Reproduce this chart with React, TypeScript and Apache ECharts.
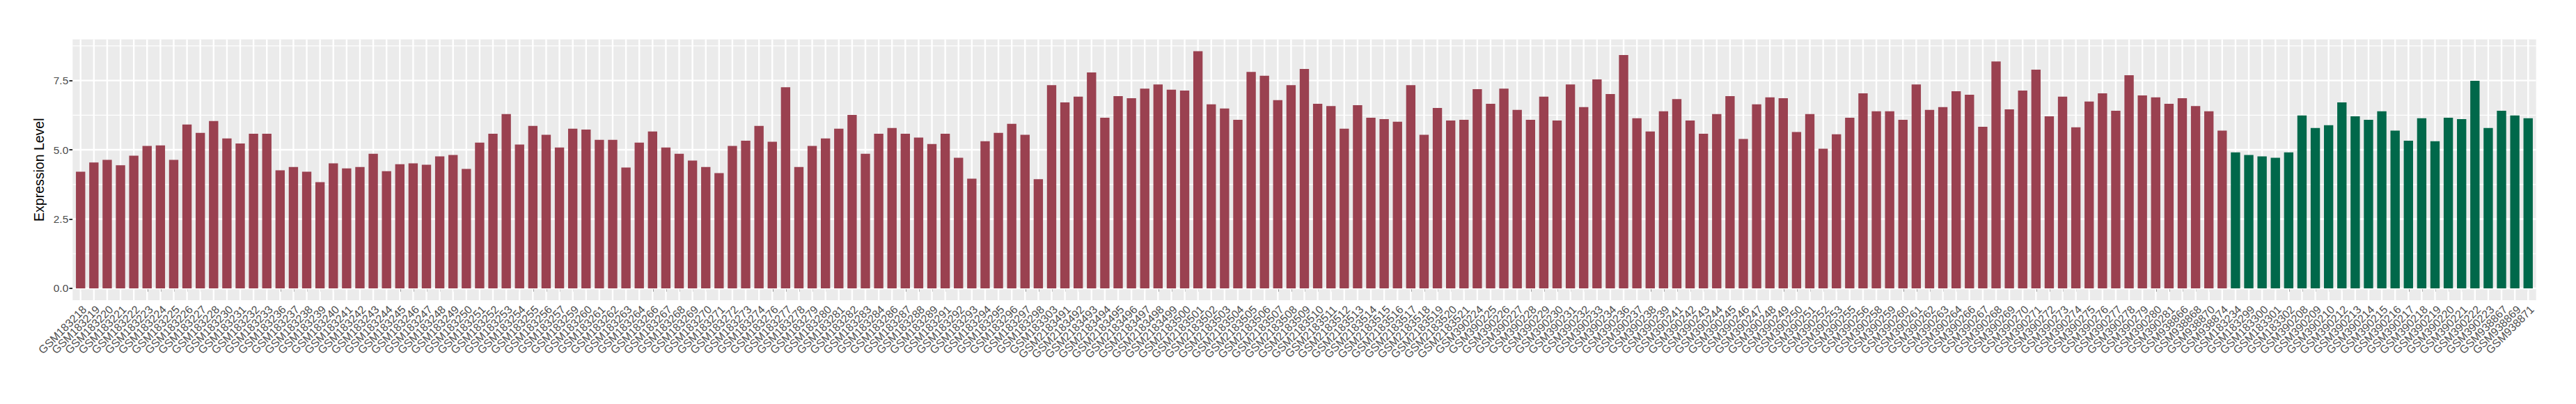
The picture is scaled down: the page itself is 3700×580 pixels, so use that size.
import React, { useEffect, useRef } from "react";
import * as echarts from "echarts";

const tumorNames: string[] = [
  "GSM183218", "GSM183219", "GSM183220", "GSM183221", "GSM183222", "GSM183223", "GSM183224", "GSM183225", "GSM183226", "GSM183227", "GSM183228",
  "GSM183230", "GSM183231", "GSM183232", "GSM183233", "GSM183236", "GSM183237", "GSM183238", "GSM183239", "GSM183240", "GSM183241", "GSM183242", "GSM183243", "GSM183244", "GSM183245", "GSM183246", "GSM183247",
  "GSM183248", "GSM183249", "GSM183250", "GSM183251", "GSM183252", "GSM183253", "GSM183254", "GSM183255", "GSM183256", "GSM183257", "GSM183259", "GSM183260", "GSM183261", "GSM183262", "GSM183263", "GSM183264",
  "GSM183266", "GSM183267", "GSM183268", "GSM183269", "GSM183270", "GSM183271", "GSM183272", "GSM183273", "GSM183274", "GSM183276", "GSM183277", "GSM183278", "GSM183279", "GSM183280", "GSM183281", "GSM183282",
  "GSM183283", "GSM183284", "GSM183286", "GSM183287", "GSM183288", "GSM183289", "GSM183291", "GSM183292", "GSM183293", "GSM183294", "GSM183295", "GSM183296", "GSM183297", "GSM183298", "GSM183303",
  "GSM2183491", "GSM2183492", "GSM2183493", "GSM2183494", "GSM2183495", "GSM2183496", "GSM2183497", "GSM2183498", "GSM2183499", "GSM2183500", "GSM2183501", "GSM2183502", "GSM2183503", "GSM2183504", "GSM2183505", "GSM2183506",
  "GSM2183507", "GSM2183508", "GSM2183509", "GSM2183510", "GSM2183511", "GSM2183512", "GSM2183513", "GSM2183514", "GSM2183515", "GSM2183516", "GSM2183517", "GSM2183518", "GSM2183519", "GSM2183520", "GSM2183521",
  "GSM390224", "GSM390225", "GSM390226", "GSM390227", "GSM390228", "GSM390229", "GSM390230", "GSM390231", "GSM390232", "GSM390233", "GSM390234", "GSM390236", "GSM390237", "GSM390238", "GSM390239", "GSM390241",
  "GSM390242", "GSM390243", "GSM390244", "GSM390245", "GSM390246", "GSM390247", "GSM390248", "GSM390249", "GSM390250", "GSM390251", "GSM390252", "GSM390253", "GSM390255", "GSM390256", "GSM390258", "GSM390259",
  "GSM390260", "GSM390261", "GSM390262", "GSM390263", "GSM390264", "GSM390266", "GSM390267", "GSM390268", "GSM390269", "GSM390270", "GSM390271", "GSM390272", "GSM390273", "GSM390274", "GSM390275", "GSM390276",
  "GSM390277", "GSM390278", "GSM390279", "GSM390280", "GSM390281",
  "GSM938866", "GSM938868", "GSM938870", "GSM938874",
];

const tumorValues: number[] = [
  4.21, 4.54, 4.64, 4.44, 4.79, 5.14, 5.16, 4.64, 5.91, 5.61, 6.04,
  5.41, 5.23, 5.58, 5.58, 4.26, 4.38, 4.21, 3.83, 4.51, 4.33, 4.38, 4.86, 4.23, 4.48, 4.51, 4.46,
  4.76, 4.81, 4.31, 5.26, 5.58, 6.29, 5.19, 5.86, 5.54, 5.08, 5.76, 5.73, 5.36, 5.36, 4.36, 5.26,
  5.66, 5.08, 4.86, 4.61, 4.38, 4.16, 5.14, 5.33, 5.86, 5.29, 7.26, 4.38, 5.14, 5.41, 5.76, 6.26,
  4.86, 5.58, 5.79, 5.58, 5.44, 5.21, 5.58, 4.71, 3.96, 5.31, 5.61, 5.94, 5.54, 3.94, 7.33,
  6.71, 6.92, 7.79, 6.16, 6.94, 6.86, 7.21, 7.36, 7.17, 7.14, 8.56, 6.64, 6.49, 6.08, 7.81, 7.67,
  6.79, 7.33, 7.92, 6.66, 6.58, 5.76, 6.61, 6.16, 6.11, 6.01, 7.33, 5.54, 6.51, 6.06, 6.08,
  7.19, 6.66, 7.21, 6.44, 6.08, 6.92, 6.06, 7.36, 6.54, 7.54, 7.01, 8.42, 6.14, 5.66, 6.39, 6.83,
  6.06, 5.58, 6.29, 6.94, 5.39, 6.64, 6.89, 6.86, 5.64, 6.29, 5.04, 5.56, 6.16, 7.04, 6.39, 6.39,
  6.08, 7.36, 6.44, 6.54, 7.11, 6.99, 5.83, 8.19, 6.46, 7.14, 7.89, 6.21, 6.92, 5.81, 6.74, 7.04,
  6.41, 7.69, 6.96, 6.89, 6.66,
  6.86, 6.58, 6.39, 5.69,
];

const normalNames: string[] = [
  "GSM183234", "GSM183299", "GSM183300", "GSM183301", "GSM183302",
  "GSM390208", "GSM390209", "GSM390210", "GSM390212", "GSM390213", "GSM390214", "GSM390215", "GSM390216", "GSM390217",
  "GSM390218", "GSM390219", "GSM390220", "GSM390221", "GSM390222", "GSM390223",
  "GSM938867", "GSM938869", "GSM938871",
];

const normalValues: number[] = [
  4.91, 4.81, 4.76, 4.71, 4.91,
  6.24, 5.79, 5.89, 6.71, 6.21, 6.08, 6.39, 5.69, 5.33,
  6.14, 5.31, 6.16, 6.11, 7.49, 5.79,
  6.41, 6.24, 6.14,
];

const yLabelValues: number[] = [0, 2.5, 5, 7.5];
const yGridValues: number[] = [0, 1.25, 2.5, 3.75, 5, 6.25, 7.5, 8.75];

const TUMOR_COLOR = "#9A4150";
const NORMAL_COLOR = "#00684A";

export default function App() {
  const ref = useRef<HTMLDivElement>(null);

  useEffect(() => {
    if (!ref.current) return;
    const chart = echarts.init(ref.current, undefined, { renderer: "svg" });

    const categories = [...tumorNames, ...normalNames];
    const barData = [
      ...tumorValues.map((v) => ({ value: v, itemStyle: { color: TUMOR_COLOR } })),
      ...normalValues.map((v) => ({ value: v, itemStyle: { color: NORMAL_COLOR } })),
    ];
    const allValues = [...tumorValues, ...normalValues];
    const dataMax = Math.max(...allValues);
    const yMin = -0.05 * dataMax;
    const yMax = 1.05 * dataMax;

    const font = "'Liberation Sans', Arial, Helvetica, sans-serif";

    // panel in pixels
    const panelLeft = 104.3;
    const panelRight = 3642.7;
    const panelTop = 56.4;
    const panelBottom = 431;
    const n = categories.length;
    const band = (panelRight - panelLeft) / (n + 1.2);
    const pad = band * 0.1;

    chart.setOption({
      animation: false,
      backgroundColor: "#FFFFFF",
      graphic: [
        {
          type: "rect",
          z: 0,
          silent: true,
          shape: { x: panelLeft, y: panelTop, width: panelRight - panelLeft, height: panelBottom - panelTop },
          style: { fill: "#EBEBEB" },
        },
      ],
      grid: {
        left: panelLeft + pad,
        top: panelTop,
        width: panelRight - panelLeft - 2 * pad,
        height: panelBottom - panelTop,
        containLabel: false,
      },
      xAxis: {
        type: "category",
        data: categories,
        axisLine: { show: false },
        axisTick: { show: true, alignWithLabel: true, interval: 0, length: 4.8, lineStyle: { color: "#333333", width: 2 } },
        axisLabel: {
          interval: 0,
          rotate: 45,
          align: "right",
          verticalAlign: "top",
          margin: 5,
          fontSize: 16,
          color: "#4D4D4D",
          fontFamily: font,
          hideOverlap: false,
        },
        splitLine: { show: false },
      },
      yAxis: {
        type: "value",
        min: yMin,
        max: yMax,
        offset: pad,
        name: "Expression Level",
        nameLocation: "middle",
        nameGap: 31,
        nameRotate: 90,
        nameTextStyle: { fontSize: 19.5, color: "#000000", fontFamily: font },
        axisLine: { show: false },
        axisTick: { show: true, customValues: yLabelValues, length: 4.8, lineStyle: { color: "#333333", width: 2 } },
        axisLabel: {
          customValues: yLabelValues,
          formatter: (v: number) => v.toFixed(1),
          fontSize: 15.5,
          color: "#4D4D4D",
          fontFamily: font,
          margin: 6,
        },
        splitLine: { show: false },
        minorSplitLine: { show: false },
      },
      series: [
        {
          type: "custom",
          name: "hgrid",
          z: 1,
          silent: true,
          clip: false,
          data: yGridValues.map((v) => [0, v]),
          encode: { x: 0, y: 1 },
          renderItem: (params: any, api: any) => {
            const v = api.value(1);
            const y = api.coord([0, v])[1];
            const cs = params.coordSys;
            const p = api.size([1, 0])[0] * 0.1;
            const major = Math.abs(v / 2.5 - Math.round(v / 2.5)) < 1e-6;
            return {
              type: "line",
              shape: { x1: cs.x - p, y1: y, x2: cs.x + cs.width + p, y2: y },
              style: { stroke: "#FFFFFF", lineWidth: major ? 2.4 : 1.2 },
            };
          },
        },
        {
          type: "custom",
          name: "vgrid",
          z: 1,
          silent: true,
          clip: false,
          data: categories.map((_, i) => [i, 0]),
          encode: { x: 0, y: 1 },
          renderItem: (params: any, api: any) => {
            const x = api.coord([api.value(0), 0])[0];
            const cs = params.coordSys;
            return {
              type: "line",
              shape: { x1: x, y1: cs.y, x2: x, y2: cs.y + cs.height },
              style: { stroke: "#FFFFFF", lineWidth: 2.4 },
            };
          },
        },
        {
          type: "bar",
          name: "Expression",
          z: 2,
          barWidth: "70%",
          data: barData,
        },
      ],
    });

    return () => {
      chart.dispose();
    };
  }, []);

  return (
    <div
      ref={ref}
      style={{ position: "fixed", left: 0, top: 0, width: "3700px", height: "580px" }}
    />
  );
}
